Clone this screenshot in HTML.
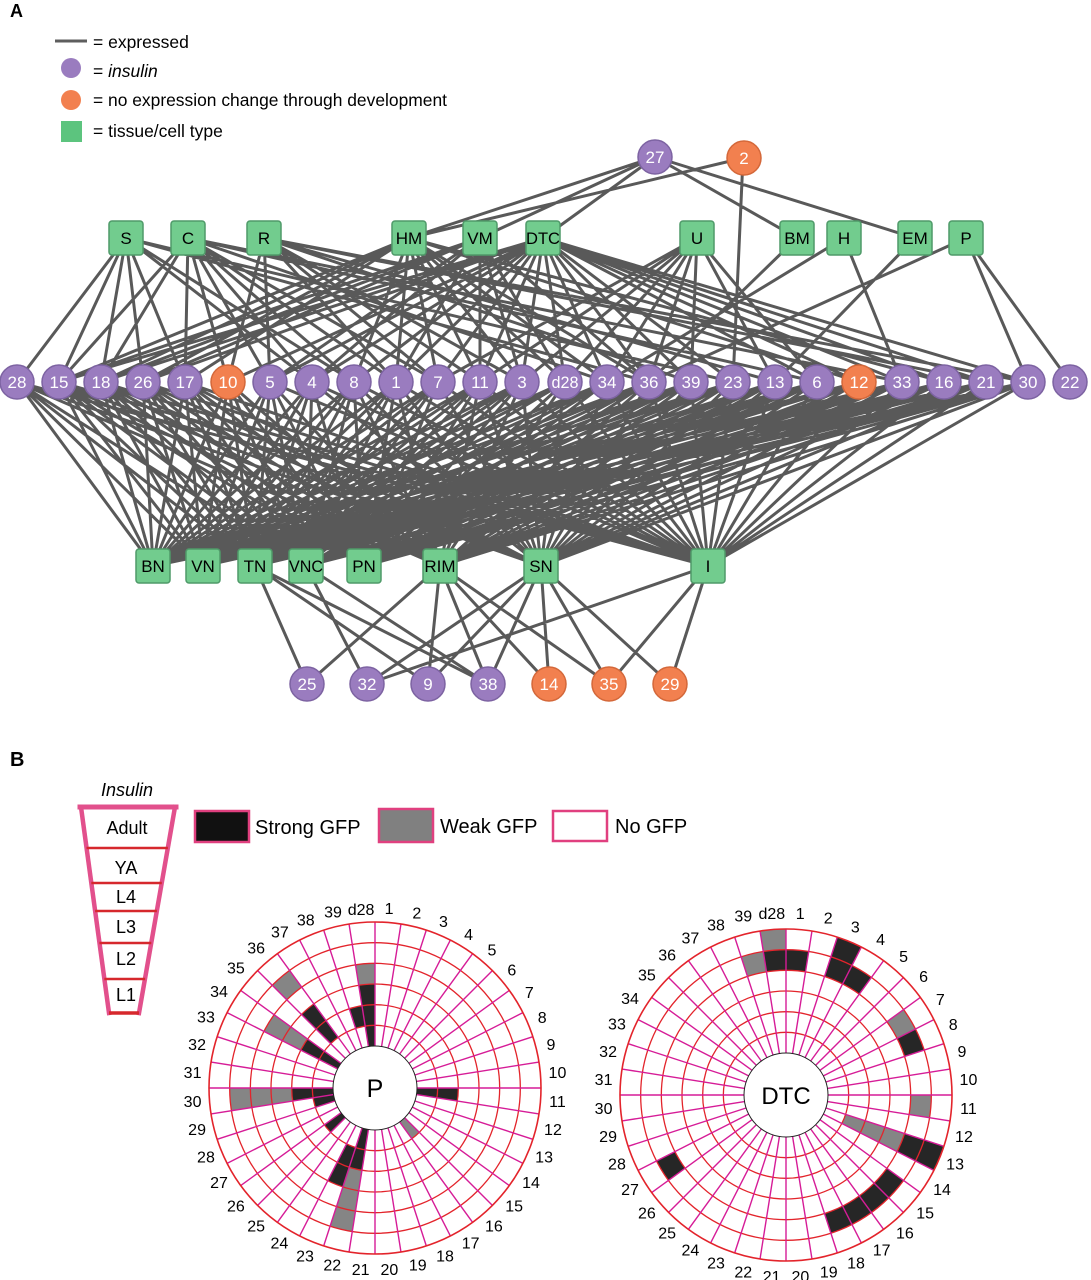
<!DOCTYPE html>
<html><head><meta charset="utf-8">
<style>
html,body{margin:0;padding:0;background:#fff;}
svg{display:block;}
.k{fill:none;stroke:#262626;stroke-width:20.67}
.g{fill:none;stroke:#858585;stroke-width:20.67}
</style></head>
<body>
<svg width="1091" height="1280" viewBox="0 0 1091 1280" xmlns="http://www.w3.org/2000/svg" font-family="'Liberation Sans', Arial, sans-serif">
<defs>
<g id="spokes" stroke="#d61c97" stroke-width="1.4">
<line y1="-42" y2="-166" transform="rotate(0)"/><line y1="-42" y2="-166" transform="rotate(9)"/><line y1="-42" y2="-166" transform="rotate(18)"/><line y1="-42" y2="-166" transform="rotate(27)"/><line y1="-42" y2="-166" transform="rotate(36)"/><line y1="-42" y2="-166" transform="rotate(45)"/><line y1="-42" y2="-166" transform="rotate(54)"/><line y1="-42" y2="-166" transform="rotate(63)"/><line y1="-42" y2="-166" transform="rotate(72)"/><line y1="-42" y2="-166" transform="rotate(81)"/>
<line y1="-42" y2="-166" transform="rotate(90)"/><line y1="-42" y2="-166" transform="rotate(99)"/><line y1="-42" y2="-166" transform="rotate(108)"/><line y1="-42" y2="-166" transform="rotate(117)"/><line y1="-42" y2="-166" transform="rotate(126)"/><line y1="-42" y2="-166" transform="rotate(135)"/><line y1="-42" y2="-166" transform="rotate(144)"/><line y1="-42" y2="-166" transform="rotate(153)"/><line y1="-42" y2="-166" transform="rotate(162)"/><line y1="-42" y2="-166" transform="rotate(171)"/>
<line y1="-42" y2="-166" transform="rotate(180)"/><line y1="-42" y2="-166" transform="rotate(189)"/><line y1="-42" y2="-166" transform="rotate(198)"/><line y1="-42" y2="-166" transform="rotate(207)"/><line y1="-42" y2="-166" transform="rotate(216)"/><line y1="-42" y2="-166" transform="rotate(225)"/><line y1="-42" y2="-166" transform="rotate(234)"/><line y1="-42" y2="-166" transform="rotate(243)"/><line y1="-42" y2="-166" transform="rotate(252)"/><line y1="-42" y2="-166" transform="rotate(261)"/>
<line y1="-42" y2="-166" transform="rotate(270)"/><line y1="-42" y2="-166" transform="rotate(279)"/><line y1="-42" y2="-166" transform="rotate(288)"/><line y1="-42" y2="-166" transform="rotate(297)"/><line y1="-42" y2="-166" transform="rotate(306)"/><line y1="-42" y2="-166" transform="rotate(315)"/><line y1="-42" y2="-166" transform="rotate(324)"/><line y1="-42" y2="-166" transform="rotate(333)"/><line y1="-42" y2="-166" transform="rotate(342)"/><line y1="-42" y2="-166" transform="rotate(351)"/>
</g>
<g id="rings" fill="none" stroke="#e3242b" stroke-width="1.3">
<circle r="62.67"/><circle r="83.33"/><circle r="104"/><circle r="124.67"/><circle r="145.33"/>
</g>
</defs>

<!-- ===== PANEL A ===== -->
<text x="10" y="17" font-size="18" font-weight="bold">A</text>
<line x1="55" y1="41" x2="87" y2="41" stroke="#5e5e5e" stroke-width="3"/>
<text x="93" y="48" font-size="17.5">= expressed</text>
<circle cx="71" cy="68" r="10" fill="#9a7cbf"/>
<text x="93" y="77" font-size="17.5">= <tspan font-style="italic">insulin</tspan></text>
<circle cx="71" cy="100" r="10" fill="#f2804f"/>
<text x="93" y="106" font-size="17.5" textLength="354" lengthAdjust="spacingAndGlyphs">= no expression change through development</text>
<rect x="61" y="121" width="21" height="21" fill="#5cc47e"/>
<text x="93" y="137" font-size="17.5">= tissue/cell type</text>

<!-- edges -->
<path fill="none" stroke="#595959" stroke-width="3" d="
M655 157L409 238M655 157L480 238M655 157L543 238M655 157L797 238M655 157L915 238M743 158L409 238M743 158L733 382
M126 238L17 382M126 238L59 382M126 238L101 382M126 238L143 382M126 238L185 382M126 238L312 382M126 238L354 382M126 238L649 382M126 238L733 382
M188 238L59 382M188 238L101 382M188 238L185 382M188 238L228 382M188 238L270 382M188 238L312 382M188 238L354 382M188 238L396 382M188 238L438 382M188 238L607 382M188 238L817 382M188 238L902 382
M264 238L228 382M264 238L270 382M264 238L396 382M264 238L438 382M264 238L480 382M264 238L522 382M264 238L691 382M264 238L775 382M264 238L986 382M264 238L1028 382
M409 238L59 382M409 238L101 382M409 238L143 382M409 238L185 382M409 238L354 382M409 238L396 382M409 238L438 382M409 238L480 382M409 238L522 382M409 238L565 382M409 238L607 382M409 238L649 382M409 238L859 382M409 238L944 382
M480 238L59 382M480 238L101 382M480 238L143 382M480 238L270 382M480 238L312 382M480 238L396 382M480 238L480 382M480 238L522 382M480 238L565 382M480 238L649 382
M543 238L59 382M543 238L101 382M543 238L143 382M543 238L228 382M543 238L270 382M543 238L312 382M543 238L354 382M543 238L396 382M543 238L438 382M543 238L480 382M543 238L522 382M543 238L565 382M543 238L607 382M543 238L649 382M543 238L691 382M543 238L733 382M543 238L817 382M543 238L859 382M543 238L902 382M543 238L944 382M543 238L986 382M543 238L1028 382
M697 238L438 382M697 238L480 382M697 238L522 382M697 238L565 382M697 238L607 382M697 238L649 382M697 238L691 382M697 238L775 382M697 238L817 382
M797 238L649 382M844 238L607 382M844 238L902 382M915 238L775 382M966 238L649 382M966 238L1028 382M966 238L1070 382
M17 382L153 566M17 382L203 566M17 382L255 566M17 382L306 566M17 382L440 566M17 382L541 566M17 382L708 566
M59 382L153 566M59 382L203 566M59 382L255 566M59 382L364 566M59 382L440 566M59 382L541 566M59 382L708 566
M101 382L153 566M101 382L203 566M101 382L255 566M101 382L306 566M101 382L364 566M101 382L541 566M101 382L708 566
M143 382L153 566M143 382L203 566M143 382L255 566M143 382L306 566M143 382L440 566M143 382L708 566
M185 382L153 566M185 382L203 566M185 382L255 566M185 382L364 566M185 382L541 566M185 382L708 566
M228 382L153 566M228 382L203 566M228 382L306 566M228 382L440 566
M270 382L153 566M270 382L203 566M270 382L255 566M270 382L306 566M270 382L364 566M270 382L440 566M270 382L708 566
M312 382L153 566M312 382L203 566M312 382L255 566M312 382L306 566M312 382L364 566M312 382L541 566M312 382L708 566
M354 382L153 566M354 382L255 566M354 382L306 566M354 382L364 566M354 382L440 566M354 382L708 566
M396 382L153 566M396 382L203 566M396 382L255 566M396 382L306 566M396 382L364 566M396 382L440 566M396 382L541 566M396 382L708 566
M438 382L153 566M438 382L203 566M438 382L255 566M438 382L306 566M438 382L364 566M438 382L541 566M438 382L708 566
M480 382L153 566M480 382L203 566M480 382L255 566M480 382L364 566M480 382L440 566M480 382L708 566
M522 382L153 566M522 382L203 566M522 382L255 566M522 382L306 566M522 382L440 566M522 382L541 566
M565 382L153 566M565 382L203 566M565 382L255 566M565 382L364 566M565 382L440 566M565 382L541 566M565 382L708 566
M607 382L153 566M607 382L203 566M607 382L255 566M607 382L306 566M607 382L364 566M607 382L541 566M607 382L708 566
M649 382L153 566M649 382L203 566M649 382L255 566M649 382L306 566M649 382L364 566M649 382L440 566M649 382L541 566M649 382L708 566
M691 382L203 566M691 382L255 566M691 382L306 566M691 382L440 566M691 382L541 566M691 382L708 566
M733 382L153 566M733 382L255 566M733 382L364 566M733 382L440 566M733 382L541 566M733 382L708 566
M775 382L203 566M775 382L255 566M775 382L306 566M775 382L364 566M775 382L440 566M775 382L541 566M775 382L708 566
M817 382L153 566M817 382L255 566M817 382L306 566M817 382L440 566M817 382L541 566M817 382L708 566
M859 382L255 566M859 382L364 566M859 382L440 566M859 382L541 566M859 382L708 566
M902 382L153 566M902 382L203 566M902 382L255 566M902 382L440 566M902 382L541 566M902 382L708 566
M944 382L203 566M944 382L255 566M944 382L306 566M944 382L364 566M944 382L440 566M944 382L541 566M944 382L708 566
M986 382L153 566M986 382L203 566M986 382L255 566M986 382L364 566M986 382L440 566M986 382L541 566M986 382L708 566
M1028 382L255 566M1028 382L306 566M1028 382L364 566M1028 382L440 566M1028 382L541 566M1028 382L708 566
M59 382L306 566M101 382L440 566M143 382L364 566M143 382L541 566M185 382L306 566M185 382L440 566
M228 382L255 566M228 382L364 566M354 382L203 566M354 382L541 566M480 382L306 566M480 382L541 566
M522 382L364 566M522 382L708 566M691 382L153 566M691 382L364 566M733 382L203 566M733 382L306 566
M817 382L203 566M817 382L364 566M859 382L153 566M859 382L203 566M902 382L306 566M902 382L364 566
M1028 382L153 566M1028 382L203 566
M255 566L307 684M255 566L428 684M255 566L488 684
M306 566L367 684M306 566L488 684
M440 566L307 684M440 566L428 684M440 566L488 684M440 566L549 684M440 566L609 684
M541 566L367 684M541 566L428 684M541 566L488 684M541 566L549 684M541 566L609 684M541 566L670 684
M708 566L367 684M708 566L609 684M708 566L670 684"/>

<!-- purple circles -->
<g fill="#9a7cbf" stroke="#7d63a2" stroke-width="1.5">
<circle cx="655" cy="157" r="17"/>
<circle cx="17" cy="382" r="17"/><circle cx="59" cy="382" r="17"/><circle cx="101" cy="382" r="17"/><circle cx="143" cy="382" r="17"/><circle cx="185" cy="382" r="17"/>
<circle cx="270" cy="382" r="17"/><circle cx="312" cy="382" r="17"/><circle cx="354" cy="382" r="17"/><circle cx="396" cy="382" r="17"/><circle cx="438" cy="382" r="17"/><circle cx="480" cy="382" r="17"/><circle cx="522" cy="382" r="17"/><circle cx="565" cy="382" r="17"/><circle cx="607" cy="382" r="17"/><circle cx="649" cy="382" r="17"/><circle cx="691" cy="382" r="17"/><circle cx="733" cy="382" r="17"/><circle cx="775" cy="382" r="17"/><circle cx="817" cy="382" r="17"/>
<circle cx="902" cy="382" r="17"/><circle cx="944" cy="382" r="17"/><circle cx="986" cy="382" r="17"/><circle cx="1028" cy="382" r="17"/><circle cx="1070" cy="382" r="17"/>
<circle cx="307" cy="684" r="17"/><circle cx="367" cy="684" r="17"/><circle cx="428" cy="684" r="17"/><circle cx="488" cy="684" r="17"/>
</g>
<!-- orange circles -->
<g fill="#f2804f" stroke="#d4683a" stroke-width="1.5">
<circle cx="744" cy="158" r="17"/>
<circle cx="228" cy="382" r="17"/><circle cx="859" cy="382" r="17"/>
<circle cx="549" cy="684" r="17"/><circle cx="609" cy="684" r="17"/><circle cx="670" cy="684" r="17"/>
</g>
<g fill="#fff" font-size="17" text-anchor="middle">
<text x="655" y="163">27</text><text x="744" y="164">2</text>
<text x="17" y="388">28</text><text x="59" y="388">15</text><text x="101" y="388">18</text><text x="143" y="388">26</text><text x="185" y="388">17</text><text x="228" y="388">10</text><text x="270" y="388">5</text><text x="312" y="388">4</text><text x="354" y="388">8</text><text x="396" y="388">1</text><text x="438" y="388">7</text><text x="480" y="388">11</text><text x="522" y="388">3</text><text x="565" y="388" textLength="27" lengthAdjust="spacingAndGlyphs">d28</text><text x="607" y="388">34</text><text x="649" y="388">36</text><text x="691" y="388">39</text><text x="733" y="388">23</text><text x="775" y="388">13</text><text x="817" y="388">6</text><text x="859" y="388">12</text><text x="902" y="388">33</text><text x="944" y="388">16</text><text x="986" y="388">21</text><text x="1028" y="388">30</text><text x="1070" y="388">22</text>
<text x="307" y="690">25</text><text x="367" y="690">32</text><text x="428" y="690">9</text><text x="488" y="690">38</text><text x="549" y="690">14</text><text x="609" y="690">35</text><text x="670" y="690">29</text>
</g>
<!-- squares -->
<g fill="#72cc8e" stroke="#4f9a69" stroke-width="1.5">
<rect x="109" y="221" width="34" height="34" rx="3"/><rect x="171" y="221" width="34" height="34" rx="3"/><rect x="247" y="221" width="34" height="34" rx="3"/><rect x="392" y="221" width="34" height="34" rx="3"/><rect x="463" y="221" width="34" height="34" rx="3"/><rect x="526" y="221" width="34" height="34" rx="3"/><rect x="680" y="221" width="34" height="34" rx="3"/><rect x="780" y="221" width="34" height="34" rx="3"/><rect x="827" y="221" width="34" height="34" rx="3"/><rect x="898" y="221" width="34" height="34" rx="3"/><rect x="949" y="221" width="34" height="34" rx="3"/>
<rect x="136" y="549" width="34" height="34" rx="3"/><rect x="186" y="549" width="34" height="34" rx="3"/><rect x="238" y="549" width="34" height="34" rx="3"/><rect x="289" y="549" width="34" height="34" rx="3"/><rect x="347" y="549" width="34" height="34" rx="3"/><rect x="423" y="549" width="34" height="34" rx="3"/><rect x="524" y="549" width="34" height="34" rx="3"/><rect x="691" y="549" width="34" height="34" rx="3"/>
</g>
<g fill="#000" font-size="17" text-anchor="middle">
<text x="126" y="244">S</text><text x="188" y="244">C</text><text x="264" y="244">R</text><text x="409" y="244">HM</text><text x="480" y="244">VM</text><text x="543" y="244" textLength="34" lengthAdjust="spacingAndGlyphs">DTC</text><text x="697" y="244">U</text><text x="797" y="244">BM</text><text x="844" y="244">H</text><text x="915" y="244">EM</text><text x="966" y="244">P</text>
<text x="153" y="572">BN</text><text x="203" y="572">VN</text><text x="255" y="572">TN</text><text x="306" y="572" textLength="34" lengthAdjust="spacingAndGlyphs">VNC</text><text x="364" y="572">PN</text><text x="440" y="572">RIM</text><text x="541" y="572">SN</text><text x="708" y="572">I</text>
</g>

<!-- ===== PANEL B ===== -->
<text x="10" y="766" font-size="20" font-weight="bold">B</text>
<text x="127" y="796" font-size="18" font-style="italic" text-anchor="middle">Insulin</text>
<!-- trapezoid -->
<g stroke-linecap="square">
<line x1="81" y1="807" x2="109" y2="1013" stroke="#e2508c" stroke-width="4.5"/>
<line x1="175" y1="807" x2="139" y2="1013" stroke="#e2508c" stroke-width="4.5"/>
<line x1="80" y1="807" x2="176" y2="807" stroke="#e2508c" stroke-width="5"/>
</g>
<g stroke="#d6282c" stroke-width="2.5">
<line x1="86.5" y1="848" x2="167.9" y2="848"/>
<line x1="91.3" y1="883" x2="161.8" y2="883"/>
<line x1="95.1" y1="911" x2="156.9" y2="911"/>
<line x1="99.4" y1="943" x2="151.3" y2="943"/>
<line x1="104.3" y1="979" x2="145.1" y2="979"/>
<line x1="109" y1="1013" x2="139" y2="1013" stroke-width="3.5"/>
</g>
<g font-size="18" text-anchor="middle">
<text x="127" y="834">Adult</text>
<text x="126" y="874">YA</text>
<text x="126" y="903">L4</text>
<text x="126" y="933">L3</text>
<text x="126" y="965">L2</text>
<text x="126" y="1001">L1</text>
</g>
<!-- legend boxes -->
<rect x="195" y="811" width="54" height="31" fill="#111" stroke="#e0407f" stroke-width="2.5"/>
<text x="255" y="834" font-size="20">Strong GFP</text>
<rect x="379" y="809" width="54" height="33" fill="#808080" stroke="#e0407f" stroke-width="2.5"/>
<text x="440" y="833" font-size="20">Weak GFP</text>
<rect x="553" y="811" width="54" height="30" fill="#fff" stroke="#e0407f" stroke-width="2.5"/>
<text x="615" y="833" font-size="20">No GFP</text>

<!-- P chart -->
<g transform="translate(375,1088)">
<circle r="166" fill="#fff"/>
<circle r="52.33" stroke-dasharray="8.22 2000" transform="rotate(261)" class="k"/>
<circle r="73" stroke-dasharray="11.47 2000" transform="rotate(261)" class="k"/>
<circle r="93.67" stroke-dasharray="14.71 2000" transform="rotate(261)" class="k"/>
<circle r="114.33" stroke-dasharray="17.96 2000" transform="rotate(261)" class="g"/>
<circle r="73" stroke-dasharray="11.47 2000" transform="rotate(252)" class="k"/>
<circle r="73" stroke-dasharray="11.47 2000" transform="rotate(225)" class="k"/>
<circle r="93.67" stroke-dasharray="14.71 2000" transform="rotate(225)" class="k"/>
<circle r="135" stroke-dasharray="21.21 2000" transform="rotate(225)" class="g"/>
<circle r="52.33" stroke-dasharray="8.22 2000" transform="rotate(207)" class="k"/>
<circle r="73" stroke-dasharray="11.47 2000" transform="rotate(207)" class="k"/>
<circle r="93.67" stroke-dasharray="14.71 2000" transform="rotate(207)" class="g"/>
<circle r="114.33" stroke-dasharray="17.96 2000" transform="rotate(207)" class="g"/>
<circle r="52.33" stroke-dasharray="8.22 2000" transform="rotate(171)" class="k"/>
<circle r="73" stroke-dasharray="11.47 2000" transform="rotate(171)" class="k"/>
<circle r="93.67" stroke-dasharray="14.71 2000" transform="rotate(171)" class="g"/>
<circle r="114.33" stroke-dasharray="17.96 2000" transform="rotate(171)" class="g"/>
<circle r="135" stroke-dasharray="21.21 2000" transform="rotate(171)" class="g"/>
<circle r="52.33" stroke-dasharray="8.22 2000" transform="rotate(162)" class="k"/>
<circle r="52.33" stroke-dasharray="8.22 2000" transform="rotate(135)" class="k"/>
<circle r="73" stroke-dasharray="11.47 2000" transform="rotate(108)" class="k"/>
<circle r="93.67" stroke-dasharray="14.71 2000" transform="rotate(108)" class="k"/>
<circle r="52.33" stroke-dasharray="8.22 2000" transform="rotate(99)" class="k"/>
<circle r="73" stroke-dasharray="11.47 2000" transform="rotate(99)" class="k"/>
<circle r="93.67" stroke-dasharray="14.71 2000" transform="rotate(99)" class="g"/>
<circle r="114.33" stroke-dasharray="17.96 2000" transform="rotate(99)" class="g"/>
<circle r="135" stroke-dasharray="21.21 2000" transform="rotate(99)" class="g"/>
<circle r="52.33" stroke-dasharray="8.22 2000" transform="rotate(0)" class="k"/>
<circle r="73" stroke-dasharray="11.47 2000" transform="rotate(0)" class="k"/>
<circle r="52.33" stroke-dasharray="8.22 2000" transform="rotate(45)" class="g"/>
<use href="#rings"/>
<use href="#spokes"/>
<circle r="166" fill="none" stroke="#e3242b" stroke-width="1.6"/>
<circle r="42" fill="#fff" stroke="#222" stroke-width="1"/>
<text y="9" font-size="25" text-anchor="middle">P</text>
<g font-size="16" text-anchor="middle" dominant-baseline="central">
<text transform="rotate(4.5) translate(0,-179) rotate(-4.5)">1</text>
<text transform="rotate(13.5) translate(0,-179) rotate(-13.5)">2</text>
<text transform="rotate(22.5) translate(0,-179) rotate(-22.5)">3</text>
<text transform="rotate(31.5) translate(0,-179) rotate(-31.5)">4</text>
<text transform="rotate(40.5) translate(0,-180) rotate(-40.5)">5</text>
<text transform="rotate(49.5) translate(0,-180) rotate(-49.5)">6</text>
<text transform="rotate(58.5) translate(0,-181) rotate(-58.5)">7</text>
<text transform="rotate(67.5) translate(0,-181) rotate(-67.5)">8</text>
<text transform="rotate(76.5) translate(0,-181) rotate(-76.5)">9</text>
<text transform="rotate(85.5) translate(0,-183) rotate(-85.5)">10</text>
<text transform="rotate(94.5) translate(0,-183) rotate(-94.5)">11</text>
<text transform="rotate(103.5) translate(0,-183) rotate(-103.5)">12</text>
<text transform="rotate(112.5) translate(0,-183) rotate(-112.5)">13</text>
<text transform="rotate(121.5) translate(0,-183) rotate(-121.5)">14</text>
<text transform="rotate(130.5) translate(0,-183) rotate(-130.5)">15</text>
<text transform="rotate(139.5) translate(0,-183) rotate(-139.5)">16</text>
<text transform="rotate(148.5) translate(0,-183) rotate(-148.5)">17</text>
<text transform="rotate(157.5) translate(0,-183) rotate(-157.5)">18</text>
<text transform="rotate(166.5) translate(0,-183) rotate(-166.5)">19</text>
<text transform="rotate(175.5) translate(0,-183) rotate(-175.5)">20</text>
<text transform="rotate(184.5) translate(0,-183) rotate(-184.5)">21</text>
<text transform="rotate(193.5) translate(0,-183) rotate(-193.5)">22</text>
<text transform="rotate(202.5) translate(0,-183) rotate(-202.5)">23</text>
<text transform="rotate(211.5) translate(0,-183) rotate(-211.5)">24</text>
<text transform="rotate(220.5) translate(0,-183) rotate(-220.5)">25</text>
<text transform="rotate(229.5) translate(0,-183) rotate(-229.5)">26</text>
<text transform="rotate(238.5) translate(0,-183) rotate(-238.5)">27</text>
<text transform="rotate(247.5) translate(0,-183) rotate(-247.5)">28</text>
<text transform="rotate(256.5) translate(0,-183) rotate(-256.5)">29</text>
<text transform="rotate(265.5) translate(0,-183) rotate(-265.5)">30</text>
<text transform="rotate(274.5) translate(0,-183) rotate(-274.5)">31</text>
<text transform="rotate(283.5) translate(0,-183) rotate(-283.5)">32</text>
<text transform="rotate(292.5) translate(0,-183) rotate(-292.5)">33</text>
<text transform="rotate(301.5) translate(0,-183) rotate(-301.5)">34</text>
<text transform="rotate(310.5) translate(0,-183) rotate(-310.5)">35</text>
<text transform="rotate(319.5) translate(0,-183) rotate(-319.5)">36</text>
<text transform="rotate(328.5) translate(0,-182) rotate(-328.5)">37</text>
<text transform="rotate(337.5) translate(0,-181) rotate(-337.5)">38</text>
<text transform="rotate(346.5) translate(0,-180) rotate(-346.5)">39</text>
<text transform="rotate(355.5) translate(0,-178) rotate(-355.5)">d28</text>
</g>
</g>

<!-- DTC chart -->
<g transform="translate(786,1095)">
<circle r="166" fill="#fff"/>
<circle r="135" stroke-dasharray="21.21 2000" transform="rotate(261)" class="k"/>
<circle r="155.67" stroke-dasharray="24.45 2000" transform="rotate(261)" class="g"/>
<circle r="135" stroke-dasharray="21.21 2000" transform="rotate(-90)" class="k"/>
<circle r="135" stroke-dasharray="21.21 2000" transform="rotate(252)" class="g"/>
<circle r="135" stroke-dasharray="21.21 2000" transform="rotate(-72)" class="k"/>
<circle r="155.67" stroke-dasharray="24.45 2000" transform="rotate(-72)" class="k"/>
<circle r="135" stroke-dasharray="21.21 2000" transform="rotate(-63)" class="k"/>
<circle r="135" stroke-dasharray="21.21 2000" transform="rotate(-36)" class="g"/>
<circle r="135" stroke-dasharray="21.21 2000" transform="rotate(-27)" class="k"/>
<circle r="135" stroke-dasharray="21.21 2000" transform="rotate(0)" class="g"/>
<circle r="73" stroke-dasharray="11.47 2000" transform="rotate(18)" class="g"/>
<circle r="93.67" stroke-dasharray="14.71 2000" transform="rotate(18)" class="g"/>
<circle r="114.33" stroke-dasharray="17.96 2000" transform="rotate(18)" class="g"/>
<circle r="135" stroke-dasharray="21.21 2000" transform="rotate(18)" class="k"/>
<circle r="155.67" stroke-dasharray="24.45 2000" transform="rotate(18)" class="k"/>
<circle r="135" stroke-dasharray="21.21 2000" transform="rotate(36)" class="k"/>
<circle r="135" stroke-dasharray="21.21 2000" transform="rotate(45)" class="k"/>
<circle r="135" stroke-dasharray="21.21 2000" transform="rotate(54)" class="k"/>
<circle r="135" stroke-dasharray="21.21 2000" transform="rotate(63)" class="k"/>
<circle r="135" stroke-dasharray="21.21 2000" transform="rotate(144)" class="k"/>
<use href="#rings"/>
<use href="#spokes"/>
<circle r="166" fill="none" stroke="#e3242b" stroke-width="1.6"/>
<circle r="42" fill="#fff" stroke="#222" stroke-width="1"/>
<text y="9" font-size="24" text-anchor="middle">DTC</text>
<g font-size="16" text-anchor="middle" dominant-baseline="central">
<text transform="rotate(4.5) translate(0,-181) rotate(-4.5)">1</text>
<text transform="rotate(13.5) translate(0,-181) rotate(-13.5)">2</text>
<text transform="rotate(22.5) translate(0,-181) rotate(-22.5)">3</text>
<text transform="rotate(31.5) translate(0,-181) rotate(-31.5)">4</text>
<text transform="rotate(40.5) translate(0,-181) rotate(-40.5)">5</text>
<text transform="rotate(49.5) translate(0,-181) rotate(-49.5)">6</text>
<text transform="rotate(58.5) translate(0,-181) rotate(-58.5)">7</text>
<text transform="rotate(67.5) translate(0,-181) rotate(-67.5)">8</text>
<text transform="rotate(76.5) translate(0,-181) rotate(-76.5)">9</text>
<text transform="rotate(85.5) translate(0,-183) rotate(-85.5)">10</text>
<text transform="rotate(94.5) translate(0,-183) rotate(-94.5)">11</text>
<text transform="rotate(103.5) translate(0,-183) rotate(-103.5)">12</text>
<text transform="rotate(112.5) translate(0,-183) rotate(-112.5)">13</text>
<text transform="rotate(121.5) translate(0,-183) rotate(-121.5)">14</text>
<text transform="rotate(130.5) translate(0,-183) rotate(-130.5)">15</text>
<text transform="rotate(139.5) translate(0,-183) rotate(-139.5)">16</text>
<text transform="rotate(148.5) translate(0,-183) rotate(-148.5)">17</text>
<text transform="rotate(157.5) translate(0,-183) rotate(-157.5)">18</text>
<text transform="rotate(166.5) translate(0,-183) rotate(-166.5)">19</text>
<text transform="rotate(175.5) translate(0,-183) rotate(-175.5)">20</text>
<text transform="rotate(184.5) translate(0,-183) rotate(-184.5)">21</text>
<text transform="rotate(193.5) translate(0,-183) rotate(-193.5)">22</text>
<text transform="rotate(202.5) translate(0,-183) rotate(-202.5)">23</text>
<text transform="rotate(211.5) translate(0,-183) rotate(-211.5)">24</text>
<text transform="rotate(220.5) translate(0,-183) rotate(-220.5)">25</text>
<text transform="rotate(229.5) translate(0,-183) rotate(-229.5)">26</text>
<text transform="rotate(238.5) translate(0,-183) rotate(-238.5)">27</text>
<text transform="rotate(247.5) translate(0,-183) rotate(-247.5)">28</text>
<text transform="rotate(256.5) translate(0,-183) rotate(-256.5)">29</text>
<text transform="rotate(265.5) translate(0,-183) rotate(-265.5)">30</text>
<text transform="rotate(274.5) translate(0,-183) rotate(-274.5)">31</text>
<text transform="rotate(283.5) translate(0,-183) rotate(-283.5)">32</text>
<text transform="rotate(292.5) translate(0,-183) rotate(-292.5)">33</text>
<text transform="rotate(301.5) translate(0,-183) rotate(-301.5)">34</text>
<text transform="rotate(310.5) translate(0,-183) rotate(-310.5)">35</text>
<text transform="rotate(319.5) translate(0,-183) rotate(-319.5)">36</text>
<text transform="rotate(328.5) translate(0,-183) rotate(-328.5)">37</text>
<text transform="rotate(337.5) translate(0,-183) rotate(-337.5)">38</text>
<text transform="rotate(346.5) translate(0,-183) rotate(-346.5)">39</text>
<text transform="rotate(355.5) translate(0,-181) rotate(-355.5)">d28</text>
</g>
</g>
</svg>
</body></html>
